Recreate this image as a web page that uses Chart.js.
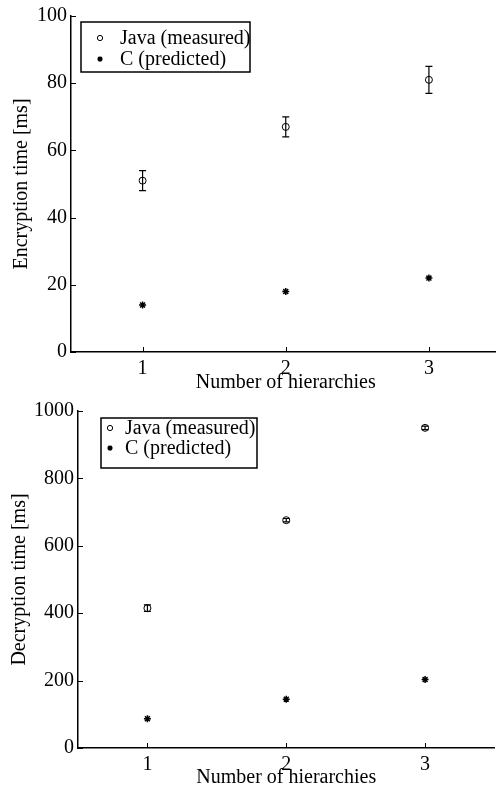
<!DOCTYPE html>
<html>
<head>
<meta charset="utf-8">
<script src="https://cdn.jsdelivr.net/npm/chart.js@4.4.1/dist/chart.umd.min.js"></script>
<style>
  html, body { margin: 0; padding: 0; background: #fff; overflow: hidden; }
  .box { position: relative; overflow: visible; }
  #top { width: 506px; height: 395px; }
  #bottom { width: 500px; height: 394px; }
</style>
</head>
<body>
<div class="box" id="top"><canvas id="encChart"></canvas></div>
<div class="box" id="bottom"><canvas id="decChart"></canvas></div>
<script>
const hierarchies = [1, 2, 3];

// encryption (ms)
const encJava = [51, 67, 81];
const encJavaErr = [3, 3, 4];
const encC = [14, 18, 22];

// decryption (ms)
const decJava = [415, 676, 950];
const decJavaErr = [10, 5, 5];
const decC = [87, 145, 203];

const seriesNames = ['Java (measured)', 'C (predicted)'];
const xTicks = [1, 2, 3];

const FONT = 'Liberation Serif, Times New Roman, serif';
const FS = 20;

function pts(vals) {
    return hierarchies.map((h, i) => ({ x: h, y: vals[i] }));
}

// error bars for the Java series, drawn through the scales
const errorBars = {
    id: 'errorBars',
    afterDatasetsDraw(chart, args, opts) {
        const c = chart.ctx;
        const xs = chart.scales.x, ys = chart.scales.y;
        const vals = opts.values, errs = opts.errors;
        c.save();
        c.strokeStyle = '#000';
        c.lineWidth = 1.2;
        vals.forEach((v, i) => {
            const px = xs.getPixelForValue(hierarchies[i]);
            const top = ys.getPixelForValue(v + errs[i]);
            const bot = ys.getPixelForValue(v - errs[i]);
            c.beginPath();
            c.moveTo(px, top); c.lineTo(px, bot);
            c.moveTo(px - 3.5, top); c.lineTo(px + 3.5, top);
            c.moveTo(px - 3.5, bot); c.lineTo(px + 3.5, bot);
            c.stroke();
        });
        c.restore();
    }
};

// inward tick marks like the matlab axes
const innerTicks = {
    id: 'innerTicks',
    afterDraw(chart) {
        const c = chart.ctx;
        const a = chart.chartArea;
        const xs = chart.scales.x, ys = chart.scales.y;
        c.save();
        c.strokeStyle = '#000';
        c.lineWidth = 1;
        xs.ticks.forEach(t => {
            const px = Math.round(xs.getPixelForValue(t.value)) + 0.5;
            c.beginPath(); c.moveTo(px, a.bottom); c.lineTo(px, a.bottom - 5); c.stroke();
        });
        ys.ticks.forEach(t => {
            const py = Math.round(ys.getPixelForValue(t.value)) + 0.5;
            c.beginPath(); c.moveTo(a.left, py); c.lineTo(a.left + 5, py); c.stroke();
        });
        c.restore();
    }
};

// boxed legend sitting inside the plot area
const boxLegend = {
    id: 'boxLegend',
    afterDraw(chart, args, o) {
        const c = chart.ctx;
        const a = chart.chartArea;
        const x = a.left + o.dx, y = a.top + o.dy;
        c.save();
        c.fillStyle = '#fff';
        c.fillRect(x, y, o.w, o.h);
        c.strokeStyle = '#000';
        c.lineWidth = 1.5;
        c.strokeRect(x, y, o.w, o.h);
        c.font = FS + 'px ' + FONT;
        c.textBaseline = 'middle';
        chart.data.datasets.forEach((ds, i) => {
            const ry = y + o.rows[i];
            c.fillStyle = ds.backgroundColor;
            c.strokeStyle = ds.borderColor;
            c.lineWidth = ds.borderWidth;
            Chart.helpers.drawPoint(c, {
                pointStyle: ds.pointStyle, radius: ds.pointRadius * 0.75,
                borderWidth: ds.borderWidth
            }, x + o.sym, ry);
            c.fillStyle = '#000';
            c.fillText(ds.label, x + o.txt, ry + 1);
        });
        c.restore();
    }
};

function makeChart(id, java, javaErr, cvals, cfg) {
    return new Chart(document.getElementById(id).getContext('2d'), {
        type: 'scatter',
        data: {
            datasets: [
                {
                    label: seriesNames[0],
                    data: pts(java),
                    pointStyle: 'circle',
                    pointRadius: 3.5,
                    borderColor: '#000',
                    backgroundColor: '#fff',
                    borderWidth: 1
                },
                {
                    label: seriesNames[1],
                    data: pts(cvals),
                    pointStyle: 'star',
                    pointRadius: 3.5,
                    borderColor: '#000',
                    backgroundColor: '#000',
                    borderWidth: 1.5
                }
            ]
        },
        plugins: [errorBars, innerTicks, boxLegend],
        options: {
            responsive: true,
            maintainAspectRatio: false,
            animation: false,
            layout: { padding: { top: cfg.padTop, right: 0, left: 0, bottom: 0 } },
            plugins: {
                legend: { display: false },
                tooltip: { enabled: false },
                errorBars: { values: java, errors: javaErr },
                boxLegend: cfg.legend
            },
            scales: {
                x: {
                    type: 'linear',
                    min: 0.5,
                    max: 3.5,
                    grid: { display: false, drawTicks: false },
                    border: { display: true, color: '#000', width: 1.5 },
                    afterBuildTicks: s => { s.ticks = xTicks.map(v => ({ value: v })); },
                    afterFit: s => { s.height = cfg.xHeight; },
                    ticks: {
                        color: '#000',
                        padding: 5,
                        font: { family: FONT, size: FS }
                    },
                    title: {
                        display: true,
                        text: 'Number of hierarchies',
                        color: '#000',
                        font: { family: FONT, size: FS, lineHeight: 1 },
                        padding: { top: 0, bottom: cfg.xTitlePad }
                    }
                },
                y: {
                    min: 0,
                    max: cfg.yMax,
                    grid: { display: false, drawTicks: false },
                    border: { display: true, color: '#000', width: 1.5 },
                    afterFit: s => { s.width = cfg.yWidth; },
                    ticks: {
                        stepSize: cfg.yStep,
                        color: '#000',
                        padding: 4,
                        font: { family: FONT, size: FS },
                        callback: v => String(v)
                    },
                    title: {
                        display: true,
                        text: cfg.yTitle,
                        color: '#000',
                        font: { family: FONT, size: FS, lineHeight: 1 },
                        padding: { top: cfg.yTitlePad, bottom: 0 }
                    }
                }
            }
        }
    });
}

makeChart('encChart', encJava, encJavaErr, encC, {
    padTop: 14, xHeight: 43, yWidth: 71, yMax: 100, yStep: 20,
    yTitle: 'Encryption time [ms]', yTitlePad: 12, xTitlePad: 2,
    legend: { dx: 10, dy: 6, w: 169, h: 50, sym: 19, txt: 39, rows: [16, 37] }
});

makeChart('decChart', decJava, decJavaErr, decC, {
    padTop: 15, xHeight: 41, yWidth: 78, yMax: 1000, yStep: 200,
    yTitle: 'Decryption time [ms]', yTitlePad: 10, xTitlePad: 1,
    legend: { dx: 23, dy: 7, w: 156, h: 50, sym: 9, txt: 24, rows: [10, 30] }
});
</script>
</body>
</html>
